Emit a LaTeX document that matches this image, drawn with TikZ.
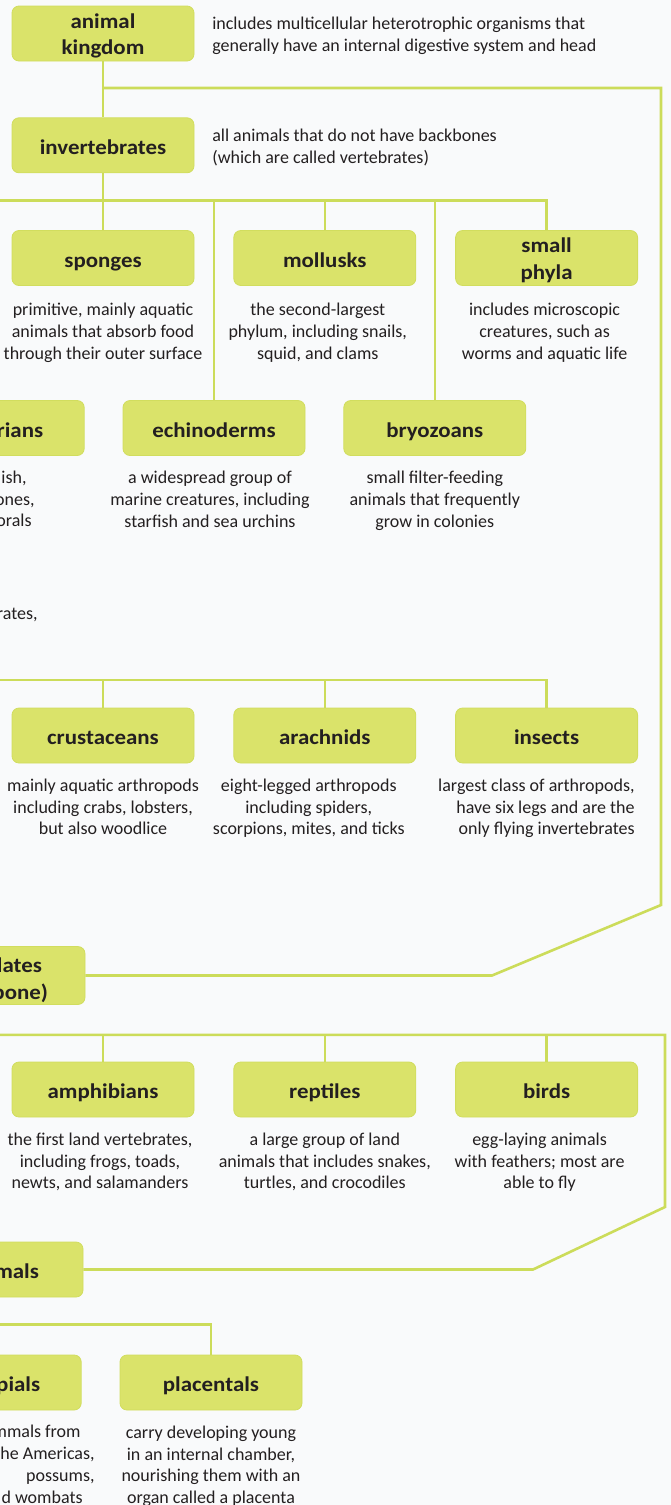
\documentclass[tikz,border=0pt]{standalone}
\usepackage{fontspec}
\setmainfont{Carlito}[BoldFeatures={FakeStretch=1.09}]
\usepackage{xcolor}
\usepackage{tikz}
\usetikzlibrary{positioning}
\definecolor{LeafFill}{HTML}{DAE36A}
\definecolor{LeafEdge}{HTML}{D1DD5E}
\definecolor{StemGreen}{HTML}{CCDC5A}
\definecolor{Ink}{HTML}{231F20}
\definecolor{PaperBg}{HTML}{F9FAFB}
\tikzset{
  every picture/.style={line width=0.8pt},
  boxbase/.style={
    draw=LeafEdge,
    fill=LeafFill,
    rounded corners=7pt,
    align=center,
    font=\fontsize{21}{26.7}\selectfont\bfseries,
    text=Ink,
    minimum width=182pt,
    minimum height=55pt,
    inner sep=2pt
  },
  groupbox/.style={boxbase, execute at begin node=\rule[-6pt]{0pt}{30pt}},
  pairbox/.style={boxbase, text width=170pt, inner xsep=6pt, inner ysep=0pt, text height=22pt, text depth=33pt},
  cutbox/.style={groupbox, align=right, text width=100pt, inner xsep=41pt},
  descbox/.style={
    font=\fontsize{18}{21.7}\selectfont,
    text=Ink,
    align=center,
    inner sep=0pt,
    execute at begin node=\strut
  },
  sidedesc/.style={descbox, align=left, anchor=west, yshift=-4pt},
  stem/.style={draw=StemGreen, line width=2.6pt}
}

\begin{document}
\begin{tikzpicture}[x=1pt, y=-1pt, node distance=15pt and 39pt]
  \useasboundingbox (0,0) rectangle (671,1505);
  \clip (0,0) rectangle (671,1505);
  \fill[PaperBg] (0,0) rectangle (671,1505);

  \node[pairbox] (ak) at (103,33.5) {animal\\kingdom};
  \node[sidedesc, right=17.5pt of ak] (ak-d) {includes multicellular heterotrophic organisms that\\generally have an internal digestive system and head};
  \node[groupbox, below=56pt of ak] (inv) {invertebrates};
  \node[sidedesc, right=17.5pt of inv] (inv-d) {all animals that do not have backbones\\(which are called vertebrates)};

  \node[groupbox] (spg) at (103,258) {sponges};
  \node[groupbox, right=of spg] (mol) {mollusks};
  \node[pairbox, right=of mol] (sph) {small\\phyla};
  \node[descbox, below=17pt of spg] (spg-d) {primitive, mainly aquatic\\animals that absorb food\\through their outer surface};
  \node[descbox, below=17pt of mol, xshift=-7pt] (mol-d) {the second-largest\\phylum, including snails,\\squid, and clams};
  \node[descbox, below=17pt of sph, xshift=-2pt] (sph-d) {includes microscopic\\creatures, such as\\worms and aquatic life};

  \node[groupbox] (ech) at (214,428) {echinoderms};
  \node[groupbox, right=38pt of ech] (bry) {bryozoans};
  \node[cutbox, left=38pt of ech] (cni) {rians};
  \node[descbox, below=of ech, xshift=-4pt] (ech-d) {a widespread group of\\marine creatures, including\\starfish and sea urchins};
  \node[descbox, below=of bry] (bry-d) {small filter-feeding\\animals that frequently\\grow in colonies};
  \node[descbox, align=right, anchor=north east] (cni-d) at (35,470.5) {ish,\hspace*{8pt}\\ones,\\orals\hspace*{3pt}};

  \node[descbox, anchor=north east] (arth-d) at (38,604) {rates,};
  \coordinate (arth-in) at (-10,680);

  \node[groupbox] (cru) at (103,735.5) {crustaceans};
  \node[groupbox, right=of cru] (ara) {arachnids};
  \node[groupbox, right=of ara] (ins) {insects};
  \node[descbox, below=of cru] (cru-d) {mainly aquatic arthropods\\including crabs, lobsters,\\but also woodlice};
  \node[descbox, below=of ara, xshift=-16pt] (ara-d) {eight-legged arthropods\\including spiders,\\scorpions, mites, and ticks};
  \node[descbox, align=right, below left=15pt and 3pt of ins.south east] (ins-d) {largest class of arthropods,\\have six legs and are the\\only flying invertebrates};

  \node[cutbox, inner xsep=37pt, text width=108pt] (vrt) at (-6,975.5) {lates\rule{6pt}{0pt}\\bone)};

  \node[groupbox] (amp) at (103,1089.5) {amphibians};
  \node[groupbox, right=of amp] (rep) {reptiles};
  \node[groupbox, right=of rep] (bir) {birds};
  \node[descbox, below=of amp, xshift=-3pt] (amp-d) {the first land vertebrates,\\including frogs, toads,\\newts, and salamanders};
  \node[descbox, below=of rep] (rep-d) {a large group of land\\animals that includes snakes,\\turtles, and crocodiles};
  \node[descbox, below=of bir, xshift=-7pt] (bir-d) {egg-laying animals\\with feathers; most are\\able to fly};

  \node[cutbox, inner xsep=44pt, text width=94pt] (mam) at (-8,1269.5) {mals};

  \node[groupbox] (pla) at (211,1382.5) {placentals};
  \node[cutbox, left=38pt of pla] (mar) {pials};
  \node[descbox, below=of pla] (pla-d) {carry developing young\\in an internal chamber,\\nourishing them with an\\organ called a placenta};
  \node[descbox, align=right, anchor=north east] (mar-d) at (95,1425) {mmals from\hspace*{14pt}\\he Americas,\\possums,\hspace*{20pt}\\d wombats\hspace*{12pt}};

  \path (inv.south) ++(0,27.5) coordinate (ibus);
  \path (vrt.south) ++(0,30) coordinate (vbus);
  \path (mam.south) ++(0,27) coordinate (mbus);

  \draw[stem] (ak) -- (inv);
  \draw[stem] (ak.south |- 0,88) -- (661,88) -- (661,905) -- (492,975.5) -- (vrt.east);

  \draw[stem] (inv) -- (ibus);
  \draw[stem] (ibus -| cni) -- (ibus -| sph) -- (sph);
  \draw[stem] (ibus -| cni) -- (cni);
  \draw[stem] (ibus -| spg) -- (spg);
  \draw[stem] (ibus -| ech) -- (ech);
  \draw[stem] (ibus -| mol) -- (mol);
  \draw[stem] (ibus -| bry) -- (bry);

  \draw[stem] (arth-in) -- (arth-in -| ins) -- (ins);
  \draw[stem] (arth-in -| cru) -- (cru);
  \draw[stem] (arth-in -| ara) -- (ara);

  \draw[stem] (vrt) -- (vbus) -- (vbus -| 665,0) -- (665,1207) -- (533,1269.5) -- (mam.east);
  \draw[stem] (vbus -| amp) -- (amp);
  \draw[stem] (vbus -| rep) -- (rep);
  \draw[stem] (vbus -| bir) -- (bir);

  \draw[stem] (mam) -- (mbus) -| (pla);
  \draw[stem] (mbus -| mar) -- (mar);
\end{tikzpicture}
\end{document}
